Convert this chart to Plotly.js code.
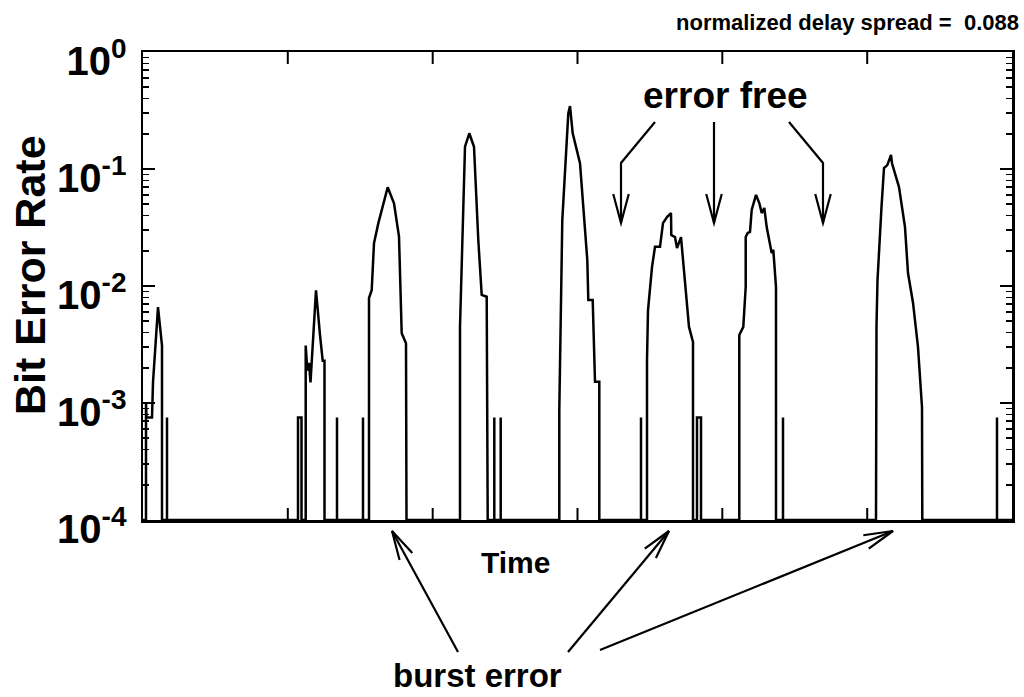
<!DOCTYPE html>
<html><head><meta charset="utf-8">
<script src="https://cdn.plot.ly/plotly-3.0.1.min.js"></script>
<style>html,body{margin:0;padding:0;background:#fff}#chart{width:1024px;height:697px}</style>
</head><body><div id="chart"></div>
<script>
// ---- data: time (arbitrary units) and bit error rate, segment by segment ----
const tStart = [0];            const vStart = [1e-4];
const tB0 = [3,3,3.5,9,10,15,19,19];
const vB0 = [1e-4,1e-3,7.5e-4,7.5e-4,1.5e-3,6.6e-3,3.1e-3,1e-4];
const tS0 = [24,24,24, 155,155,158.5,158.5];
const vS0 = [1e-4,7.5e-4,1e-4, 1e-4,7.5e-4,7.5e-4,1e-4];
const tB1 = [162.7,162.7,164.3,166,167.5,173,177,179.7,181.5,181.5];
const vB1 = [1e-4,3.1e-3,1.9e-3,2.2e-3,1.5e-3,9.2e-3,3.8e-3,2.3e-3,2.3e-3,1e-4];
const tS1 = [194,194,194, 220,220,220];
const vS1 = [1e-4,7.5e-4,1e-4, 1e-4,7.5e-4,1e-4];
const tB2 = [226,226,228.7,231,235.3,244.7,251,256,258.7,263,263.5];
const vB2 = [1e-4,7.9e-3,9.2e-3,0.0232,0.0343,0.0698,0.0509,0.0264,3.94e-3,3.24e-3,1e-4];
const tB3 = [317,317,322,326.3,331,335.3,338.7,343.7,344.7];
const vB3 = [1e-4,4.49e-3,0.155,0.202,0.155,0.0247,8.4e-3,8.1e-3,1e-4];
const tS3 = [351.3,351.3,351.3, 357.7,357.7,357.7];
const vS3 = [1e-4,7.5e-4,1e-4, 1e-4,7.5e-4,1e-4];
const tB4 = [416.3,416.3,419.3,425.3,427,429.7,437,444.3,445.3,449.7,452,456.3,456.3];
const vB4 = [1e-4,8.7e-4,0.0367,0.299,0.345,0.202,0.112,0.0167,7.6e-3,7.6e-3,1.52e-3,1.52e-3,1e-4];
const tS4 = [498,498,498];
const vS4 = [1e-4,7.5e-4,1e-4];
const tB5 = [504,504,505,509,512,517,520,524,528,528.3,532,534,538,542,546,550,550];
const vB5 = [1e-4,2.33e-3,6.2e-3,0.0145,0.0216,0.0216,0.0345,0.0389,0.042,0.0273,0.0262,0.0211,0.0262,0.0112,4.47e-3,3.32e-3,1e-4];
const tS5 = [554,554,558,558];
const vS5 = [1e-4,7.5e-4,7.5e-4,1e-4];
const tB6 = [596.3,596.3,600.3,602.7,602.7,604.7,607,608.7,613,616.3,618.7,621.3,623.7,627,628.7,630.3,633,633];
const vB6 = [1e-4,3.81e-3,4.47e-3,9.8e-3,0.0262,0.0284,0.029,0.0447,0.060,0.0512,0.042,0.0464,0.0319,0.0216,0.0191,0.0204,9.8e-3,1e-4];
const tS6 = [640,640,640];
const vS6 = [1e-4,7.5e-4,1e-4];
const tB7 = [733,733.5,734.5,736,738.5,741,744.3,748,749,756,762,765,770,775,779,779.3];
const vB7 = [1e-4,4.6e-3,0.0112,0.0203,0.0473,0.102,0.108,0.132,0.112,0.070,0.0319,0.0129,0.0072,0.0030,9.2e-4,1e-4];
const tEnd = [854,854,854,869];
const vEnd = [1e-4,7.5e-4,1e-4,1e-4];

const yTickVals = [1e-4,1e-3,1e-2,1e-1,1];
const yTickText = ['10<sup>-4</sup>','10<sup>-3</sup>','10<sup>-2</sup>','10<sup>-1</sup>','10<sup>0</sup>'];
const xTickVals = [144.8,289.7,434.5,579.3,724.2];
const timeRange = [0, 869];

const time = [].concat(tStart,tB0,tS0,tB1,tS1,tB2,tB3,tS3,tB4,tS4,tB5,tS5,tB6,tS6,tB7,tEnd);
const ber  = [].concat(vStart,vB0,vS0,vB1,vS1,vB2,vB3,vS3,vB4,vS4,vB5,vS5,vB6,vS6,vB7,vEnd);

const minorVals = [];
for (let e = -4; e < 0; e++) for (let d = 2; d <= 9; d++) minorVals.push(d * Math.pow(10, e));

// ---- geometry helpers (pixel -> paper) ----
const PL = 143, PR = 1012, PT = 52, PB = 520;
const X = px => (px - PL) / (PR - PL);
const Y = py => (PB - py) / (PB - PT);

function arrow(pts, headLen, angDeg) {
  const path = 'M ' + pts.map(p => X(p[0]) + ',' + Y(p[1])).join(' L ');
  const tip = pts[pts.length - 1], prev = pts[pts.length - 2];
  let dx = prev[0] - tip[0], dy = prev[1] - tip[1];
  const n = Math.hypot(dx, dy); dx /= n; dy /= n;
  const a = angDeg * Math.PI / 180;
  const h = s => [tip[0] + headLen * (dx * Math.cos(s * a) - dy * Math.sin(s * a)),
                  tip[1] + headLen * (dx * Math.sin(s * a) + dy * Math.cos(s * a))];
  const h1 = h(1), h2 = h(-1);
  const head = 'M ' + X(h1[0]) + ',' + Y(h1[1]) + ' L ' + X(tip[0]) + ',' + Y(tip[1]) + ' L ' + X(h2[0]) + ',' + Y(h2[1]);
  const st = {type: 'path', xref: 'paper', yref: 'paper', line: {color: '#000', width: 2.2}};
  return [Object.assign({path: path}, st), Object.assign({path: head}, st)];
}

// axis tick marks on top and bottom frame (inside), drawn as paper shapes
function xTickShapes() {
  const out = [];
  xTickVals.forEach(v => {
    const xp = v / (timeRange[1] - timeRange[0]);
    out.push({type: 'line', xref: 'paper', yref: 'paper', x0: xp, x1: xp, y0: 1, y1: Y(PT + 12), line: {color: '#000', width: 2}});
    out.push({type: 'line', xref: 'paper', yref: 'paper', x0: xp, x1: xp, y0: 0, y1: Y(PB - 12), line: {color: '#000', width: 2}});
  });
  return out;
}

const shapes = [].concat(
  xTickShapes(),
  arrow([[655,122],[621,163],[621,223]], 30, 15),
  arrow([[714,122],[714,223]], 30, 15),
  arrow([[789,122],[823,163],[823,223]], 30, 15),
  arrow([[458,652],[392,531]], 30, 14),
  arrow([[568,652],[669,531]], 30, 14),
  arrow([[600,650],[893,531]], 30, 14)
);

const FONT = 'Liberation Sans, Arial, Helvetica, sans-serif';
const ann = (text, px, py, size, extra) => Object.assign({
  text: text, xref: 'paper', yref: 'paper', x: X(px), y: Y(py),
  xanchor: 'center', yanchor: 'middle', showarrow: false,
  font: {family: FONT, size: size, color: '#000', weight: 'bold'}
}, extra || {});

const annotations = [
  ann('normalized delay spread =\u00A0 0.088', 1021, 22, 22, {xanchor: 'right'}),
  ann('error free', 725, 95, 37),
  ann('Time', 515, 562, 30),
  ann('burst error', 477, 675, 33),
  ann('Bit Error Rate', 30, 275, 43, {textangle: -90})
];

const trace = {
  x: time, y: ber, type: 'scatter', mode: 'lines',
  line: {color: '#000', width: 2.5, shape: 'linear'},
  hoverinfo: 'skip', showlegend: false
};

const layout = {
  width: 1024, height: 697, autosize: false,
  margin: {l: PL, r: 1024 - PR, t: PT, b: 697 - PB, pad: 0},
  paper_bgcolor: '#fff', plot_bgcolor: '#fff',
  font: {family: FONT, color: '#000'},
  showlegend: false,
  xaxis: {
    range: timeRange, showgrid: false, zeroline: false,
    showline: true, linecolor: '#000', linewidth: 2.5, mirror: true,
    ticks: '', tickmode: 'array', tickvals: xTickVals, showticklabels: false
  },
  yaxis: {
    type: 'log', range: [-4, 0], showgrid: false, zeroline: false,
    showline: true, linecolor: '#000', linewidth: 2.5, mirror: 'allticks',
    ticks: 'inside', ticklen: 12, tickwidth: 2, tickcolor: '#000',
    tickmode: 'array', tickvals: yTickVals, ticktext: yTickText,
    tickfont: {family: FONT, size: 40, color: '#000', weight: 'bold'},
    ticklabelstandoff: 6, ticklabelshift: 9,
    minor: {tickmode: 'array', tickvals: minorVals, ticks: 'inside', ticklen: 6, tickwidth: 1.5, tickcolor: '#000', showgrid: false}
  },
  shapes: shapes,
  annotations: annotations
};

Plotly.newPlot('chart', [trace], layout, {displayModeBar: false, staticPlot: true});
</script>
</body></html>
